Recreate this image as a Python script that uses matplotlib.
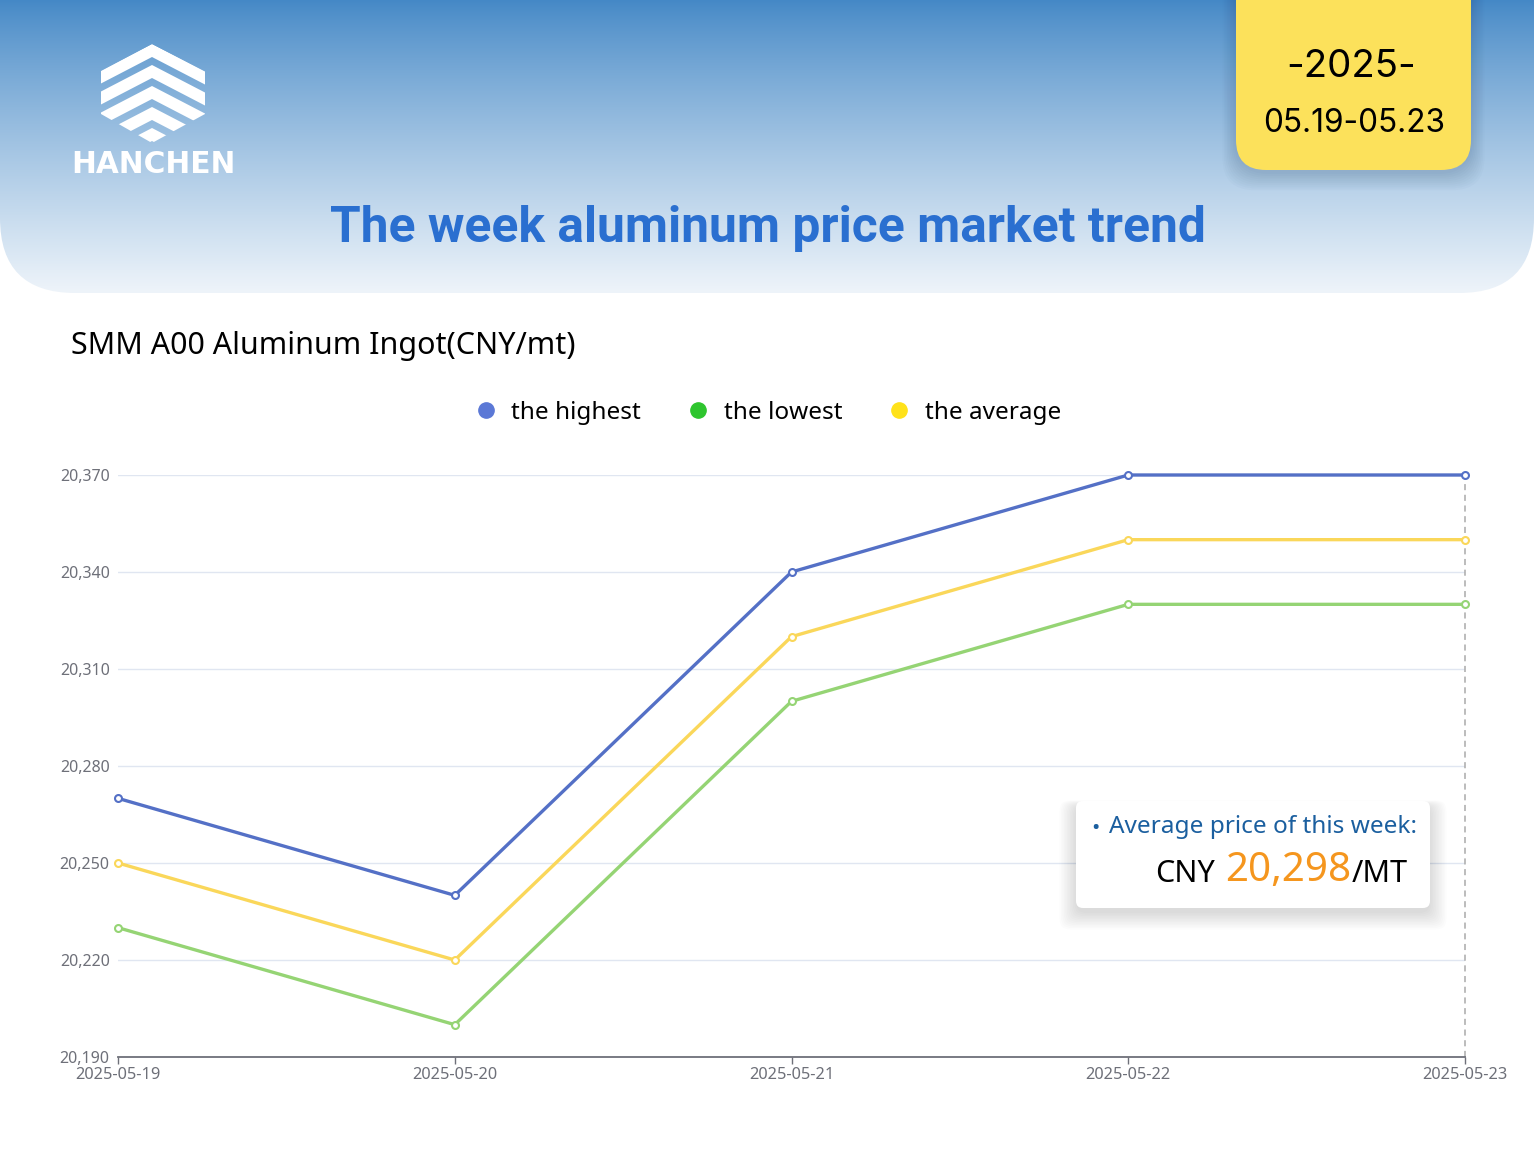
import numpy as np
import matplotlib.pyplot as plt
from matplotlib.patches import FancyBboxPatch, Polygon
from matplotlib.lines import Line2D
from matplotlib.ticker import FuncFormatter

plt.rcParams['font.family'] = ['Noto Sans', 'DejaVu Sans']

W, H = 1534, 1151

# data
dates = ['2025-05-19', '2025-05-20', '2025-05-21', '2025-05-22', '2025-05-23']
highest = [20270, 20240, 20340, 20370, 20370]
lowest = [20230, 20200, 20300, 20330, 20330]
average = [20250, 20220, 20320, 20350, 20350]
y_ticks = [20190, 20220, 20250, 20280, 20310, 20340, 20370]
series_names = ['the highest', 'the lowest', 'the average']
week_avg = 20298

line_colors = ['#5470c6', '#95d474', '#fad75a']
legend_colors = ['#5b78d6', '#2ec52e', '#ffe21a']

fig = plt.figure(figsize=(W / 100, H / 100), dpi=100)
fig.patch.set_facecolor('white')
renderer = fig.canvas.get_renderer()


def fit_width(txt, target):
    # scale font so the text spans about target pixels
    w = txt.get_window_extent(renderer).width
    txt.set_fontsize(txt.get_fontsize() * target / w)


# background layer in pixel coordinates
bg = fig.add_axes([0, 0, 1, 1], zorder=0)
bg.set_xlim(0, W)
bg.set_ylim(H, 0)
bg.axis('off')

# header with vertical gradient and rounded bottom corners
header = FancyBboxPatch((0, -200), W, 493, boxstyle='round,pad=0,rounding_size=75',
                        fc='none', ec='none')
bg.add_patch(header)
t = np.linspace(0, 1, 300)[:, None, None]
c_top = np.array([0x44, 0x88, 0xc6]) / 255
c_bot = np.array([0xee, 0xf4, 0xfa]) / 255
grad = c_top + (c_bot - c_top) * t ** 0.85
im = bg.imshow(grad, extent=(0, W, 293, 0), aspect='auto', zorder=1)
im.set_clip_path(header)

# logo: hexagon of nested chevrons
hexa = Polygon([(152, 44), (205, 71), (205, 114), (152, 143), (101, 114), (101, 71)],
               closed=True, fc='none', ec='none', transform=bg.transData)
bg.add_patch(hexa)
slope = 27 / 52
for off in [0, 21, 42, 63, 84]:
    w = 13
    pts = [(95, 44 + off + 57 * slope), (152, 44 + off), (210, 44 + off + 58 * slope),
           (210, 44 + off + w + 58 * slope), (152, 44 + off + w), (95, 44 + off + w + 57 * slope)]
    band = Polygon(pts, closed=True, fc='white', ec='none', zorder=3)
    bg.add_patch(band)
    band.set_clip_path(hexa)
logo = bg.text(153, 164, 'HANCHEN', ha='center', va='center', fontsize=22,
               fontweight='bold', family='DejaVu Sans', color='white', zorder=3)
fit_width(logo, 163)

# date badge with soft shadow
for i in range(10):
    s = FancyBboxPatch((1236 - i * 1.5, -40 + 4), 235 + i * 3, 210 + i * 1.8,
                       boxstyle='round,pad=0,rounding_size=32', fc='#30507a',
                       ec='none', alpha=0.025, zorder=2)
    bg.add_patch(s)
badge = FancyBboxPatch((1236, -40), 235, 210, boxstyle='round,pad=0,rounding_size=30',
                       fc='#fce15b', ec='none', zorder=3)
bg.add_patch(badge)
yr = bg.text(1351, 67, '-2025-', ha='center', va='center', fontsize=34,
             family='Inter', color='black', zorder=4)
fit_width(yr, 130)
wk = bg.text(1354, 123, '05.19-05.23', ha='center', va='center', fontsize=26,
             family='Inter', color='black', zorder=4)
fit_width(wk, 182)

title = bg.text(768, 228, 'The week aluminum price market trend', ha='center', va='center',
                fontsize=34, fontweight='bold', family='Roboto', color='#2a6fd0', zorder=4)
fit_width(title, 875)

sub = bg.text(71, 346, 'SMM A00 Aluminum Ingot(CNY/mt)', ha='left', va='center',
              fontsize=21, color='black')
fit_width(sub, 505)

# main chart
ax = fig.add_axes([118 / W, 1 - 1057 / H, 1347 / W, 582 / H], zorder=1)
ax.patch.set_alpha(0)
x = np.arange(len(dates))
for vals, c in zip([highest, lowest, average], line_colors):
    ax.plot(x, vals, color=c, lw=2.4, marker='o', ms=5, mfc='white', mec=c,
            mew=1.5, clip_on=False, zorder=3)
ax.set_xlim(0, len(dates) - 1)
ax.set_ylim(y_ticks[0], y_ticks[-1])
ax.set_yticks(y_ticks)
ax.yaxis.set_major_formatter(FuncFormatter(lambda v, p: f'{int(v):,}'))
ax.set_xticks(x)
ax.set_xticklabels(dates)
ax.yaxis.grid(True, color='#e0e6f1', lw=1)
ax.set_axisbelow(True)
for side in ['top', 'right', 'left']:
    ax.spines[side].set_visible(False)
ax.spines['bottom'].set_color('#6e7079')
ax.spines['bottom'].set_linewidth(1.3)
ax.tick_params(axis='y', length=0, pad=6, labelsize=11.5, labelcolor='#6e7079')
ax.tick_params(axis='x', length=5, width=1, color='#6e7079', pad=2,
               labelsize=11.8, labelcolor='#6e7079')
ax.axvline(x[-1], color='#aaaaaa', ls=(0, (4, 3)), lw=1.1, zorder=2, clip_on=False)

handles = [Line2D([], [], ls='none', marker='o', ms=11, color=c) for c in legend_colors]
fig.legend(handles, series_names, loc='center', bbox_to_anchor=(766 / W, 1 - 413 / H),
           ncol=3, frameon=False, fontsize=17.5, handletextpad=0.45, columnspacing=1.75,
           handlelength=1.2)

# info box on top
fg = fig.add_axes([0, 0, 1, 1], zorder=3)
fg.set_xlim(0, W)
fg.set_ylim(H, 0)
fg.axis('off')
for i in range(12):
    s = FancyBboxPatch((1076 - i * 1.5, 801 - i * 0.5 + 5), 354 + i * 3, 107 + i * 2,
                       boxstyle='round,pad=0,rounding_size=10', fc='#000000',
                       ec='none', alpha=0.012)
    fg.add_patch(s)
fg.add_patch(FancyBboxPatch((1076, 801), 354, 107, boxstyle='round,pad=0,rounding_size=7',
                            fc='white', ec='none'))
fg.text(1095, 828, '•', ha='center', va='center', fontsize=16, color='#1b5f9f')
lab = fg.text(1109, 827, 'Average price of this week:', ha='left', va='center',
              fontsize=17, color='#1b5f9f')
fit_width(lab, 307)

# value line, laid out right to left from the box's inner edge
xr = 1408
unit = fg.text(xr, 874, '/MT', ha='right', va='center', fontsize=22, color='black')
xr -= unit.get_window_extent(renderer).width + 1
num = fg.text(xr, 871, f'{week_avg:,}', ha='right', va='center', fontsize=29, color='#f5961e')
xr -= num.get_window_extent(renderer).width + 10
fg.text(xr, 874, 'CNY', ha='right', va='center', fontsize=22, color='black')

fig.savefig('out.png', dpi=100)
